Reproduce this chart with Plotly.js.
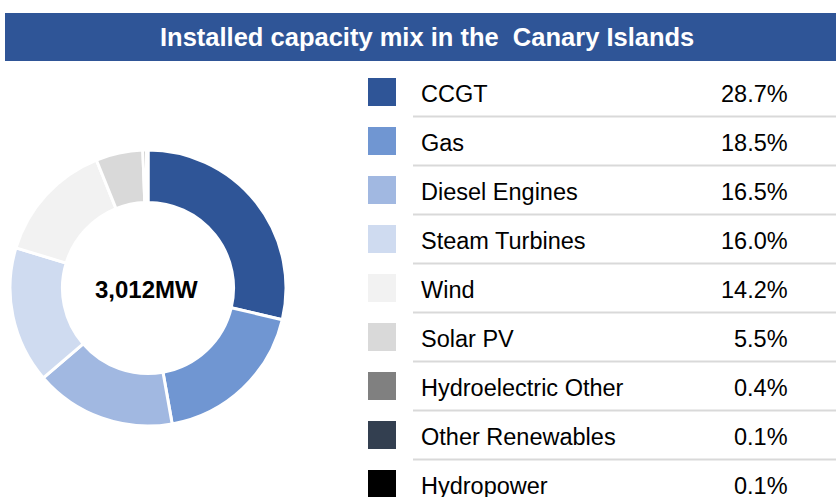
<!DOCTYPE html>
<html>
<head>
<meta charset="utf-8">
<script src="https://cdn.plot.ly/plotly-3.0.1.min.js"></script>
<style>html,body{margin:0;padding:0;background:#fff;}#chart{width:836px;height:497px;}</style>
</head>
<body>
<div id="chart"></div>
<script>
const chartTitle = "Installed capacity mix in the  Canary Islands";
const centerLabel = "3,012MW";
const categories = ["CCGT", "Gas", "Diesel Engines", "Steam Turbines", "Wind", "Solar PV", "Hydroelectric Other", "Other Renewables", "Hydropower"];
const shares = [28.7, 18.5, 16.5, 16.0, 14.2, 5.5, 0.4, 0.1, 0.1];
const shareLabels = ["28.7%", "18.5%", "16.5%", "16.0%", "14.2%", "5.5%", "0.4%", "0.1%", "0.1%"];
const colors = ["#2F5597", "#7096D2", "#A1B8E1", "#CFDBF0", "#F2F2F2", "#D9D9D9", "#808080", "#333F50", "#000000"];

const W = 836, H = 497;
const px = x => x / W;
const py = y => 1 - y / H;
const FONT = "Arial, 'Liberation Sans', sans-serif";

const shapes = [];
const annotations = [];

// title bar
shapes.push({type: "rect", xref: "paper", yref: "paper", x0: px(5), x1: px(836), y0: py(61), y1: py(13), fillcolor: "#2F5597", line: {width: 0}, layer: "below"});
annotations.push({xref: "paper", yref: "paper", x: px(427), y: py(37), text: "<b>" + chartTitle + "</b>", showarrow: false, xanchor: "center", yanchor: "middle", font: {family: FONT, size: 25.5, color: "#FFFFFF"}});

// center label
annotations.push({xref: "paper", yref: "paper", x: px(146), y: py(289), text: "<b>" + centerLabel + "</b>", showarrow: false, xanchor: "center", yanchor: "middle", font: {family: FONT, size: 24, color: "#000000"}});

// legend table
const rowTop = 92, rowStep = 49;
categories.forEach((c, i) => {
  const cy = rowTop + rowStep * i;
  shapes.push({type: "rect", xref: "paper", yref: "paper", x0: px(368), x1: px(396), y0: py(cy + 14), y1: py(cy - 14), fillcolor: colors[i], line: {width: 0}});
  annotations.push({xref: "paper", yref: "paper", x: px(419), y: py(cy + 2), text: c, showarrow: false, xanchor: "left", yanchor: "middle", font: {family: FONT, size: 23.5, color: "#000000"}});
  annotations.push({xref: "paper", yref: "paper", x: px(790), y: py(cy + 2), text: shareLabels[i], showarrow: false, xanchor: "right", yanchor: "middle", font: {family: FONT, size: 23.5, color: "#000000"}});
  if (i < categories.length - 1) {
    shapes.push({type: "line", xref: "paper", yref: "paper", x0: px(413), x1: px(836), y0: py(cy + 24.5), y1: py(cy + 24.5), line: {color: "#D9D9D9", width: 2}});
  }
});

const trace = {
  type: "pie",
  labels: categories,
  values: shares,
  hole: 0.62,
  sort: false,
  direction: "clockwise",
  rotation: 0,
  textinfo: "none",
  hoverinfo: "none",
  marker: {colors: colors, line: {color: "#FFFFFF", width: 3}},
  domain: {x: [px(10), px(286)], y: [py(426), py(150)]},
  showlegend: false
};

const layout = {
  width: W, height: H,
  margin: {l: 0, r: 0, t: 0, b: 0},
  paper_bgcolor: "#FFFFFF",
  plot_bgcolor: "#FFFFFF",
  showlegend: false,
  shapes: shapes,
  annotations: annotations
};

Plotly.newPlot("chart", [trace], layout, {displayModeBar: false, staticPlot: true});
</script>
</body>
</html>
